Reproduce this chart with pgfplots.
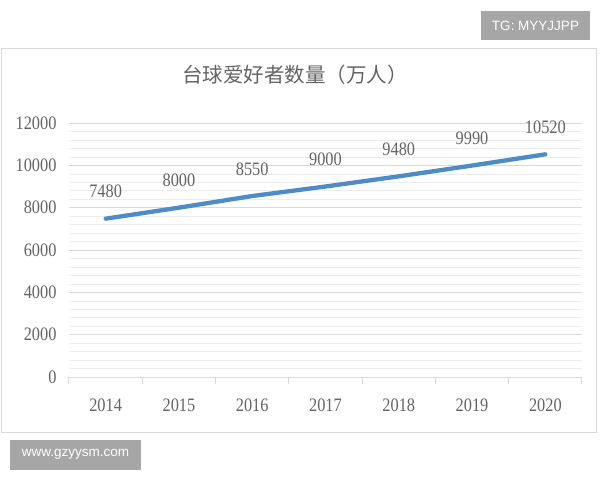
\documentclass[border=0pt]{standalone}
\usepackage{pgfplots}
\pgfplotsset{compat=1.18}
\usepackage{fontspec}
\setmainfont{Liberation Serif}
\newfontfamily\numfont[FakeStretch=0.86]{Liberation Serif}
\newfontfamily\cjk{Noto Sans CJK SC}
\newfontfamily\wm{Liberation Sans}
\definecolor{linecol}{RGB}{78,140,200}
\definecolor{txtgray}{RGB}{100,100,100}
\definecolor{majgrid}{RGB}{217,217,217}
\definecolor{mingrid}{RGB}{236,236,236}
\definecolor{wmgray}{RGB}{166,166,166}
\begin{document}
\begin{tikzpicture}
\useasboundingbox (0pt,0pt) rectangle (600pt,480pt);
\fill[white] (0pt,0pt) rectangle (600pt,480pt);
% chart frame
\draw[color=majgrid, line width=1pt] (1pt,48pt) rectangle (596pt,431pt);
% watermarks
\fill[wmgray] (481pt,440pt) rectangle (590pt,469pt);
\node[text=white, font=\wm\fontsize{13.5}{14}\selectfont] at (535.5pt,454.5pt) {TG: MYYJJPP};
\fill[wmgray] (10pt,10pt) rectangle (141pt,40pt);
\node[text=white, font=\wm\fontsize{13.5}{14}\selectfont] at (75.5pt,26pt) {www.gzyysm.com};
% title
\node[text=txtgray, font=\cjk\fontsize{20.5}{23}\selectfont] at (295pt,405pt) {台球爱好者数量（万人）};
\begin{axis}[
  at={(69pt,103pt)}, anchor=south west,
  scale only axis, width=513pt, height=254pt,
  xmin=-0.5, xmax=6.5, ymin=0, ymax=12000,
  xtick=data,
  xticklabels={2014,2015,2016,2017,2018,2019,2020},
  minor xtick={-0.5,0.5,...,6.5},
  ytick={0,2000,...,12000},
  minor y tick num=4,
  ymajorgrids, yminorgrids,
  major grid style={color=majgrid, line width=0.8pt},
  minor grid style={color=mingrid, line width=0.6pt},
  axis x line*=bottom,
  axis y line*=left,
  y axis line style={draw=none},
  x axis line style={color=majgrid, line width=1pt, -},
  tick align=outside,
  major x tick style={draw=none},
  minor x tick style={color=majgrid, line width=1pt},
  minor tick length=7pt,
  major tick length=0pt,
  ytick style={draw=none},
  yticklabel style={text=txtgray, font=\numfont\fontsize{19}{20}\selectfont, xshift=-9pt},
  xticklabel style={text=txtgray, font=\numfont\fontsize{19}{20}\selectfont, anchor=center, yshift=-28pt},
  scaled y ticks=false,
  yticklabel={\pgfmathprintnumber[fixed, set thousands separator={}]{\tick}},
  /pgf/number format/assume math mode=true,
  clip=false,
  nodes near coords,
  nodes near coords style={text=txtgray, font=\numfont\fontsize{19}{20}\selectfont, anchor=center, yshift=27pt,
    /pgf/number format/.cd, fixed, set thousands separator={}, assume math mode=true},
]
\addplot[color=linecol, line width=4.3pt, line cap=round] coordinates {
  (0,7480) (1,8000) (2,8550) (3,9000) (4,9480) (5,9990) (6,10520)
};
\end{axis}
\end{tikzpicture}
\end{document}
